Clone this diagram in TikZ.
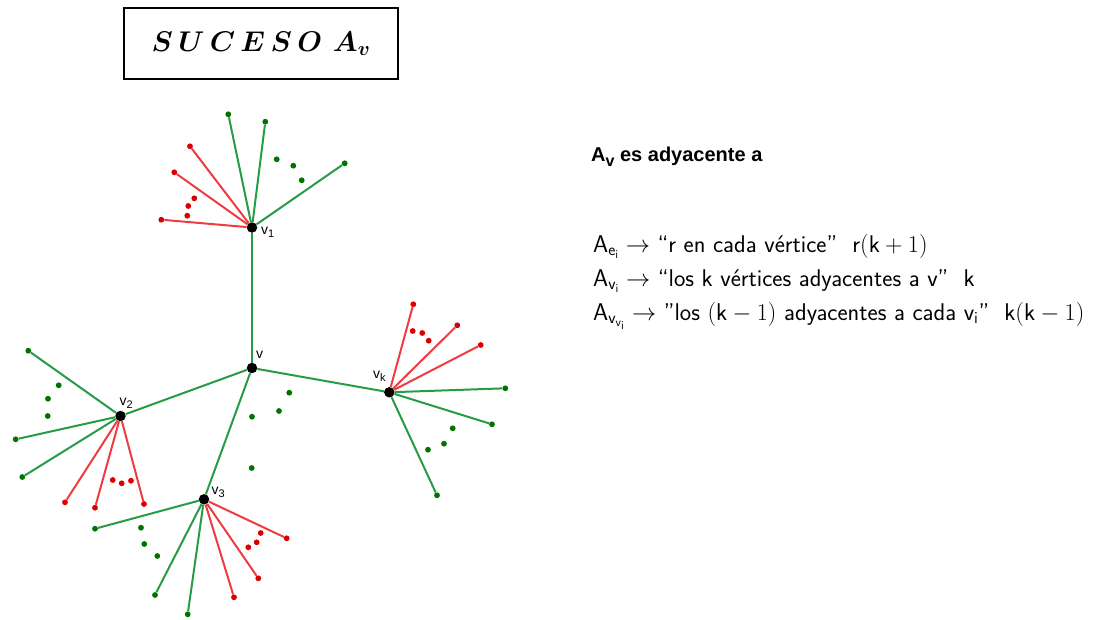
\RequirePackage{fix-cm}
\documentclass[tikz,border=0pt]{standalone}
\usepackage{fontspec}
\usepackage{amsmath}
\newfontfamily\helv{Liberation Sans}
\definecolor{lgreen}{RGB}{40,155,70}
\definecolor{dgreen}{RGB}{0,115,0}
\definecolor{lred}{RGB}{238,60,65}
\definecolor{dred}{RGB}{220,0,0}
\tikzset{
  vert/.style={circle,fill=black,inner sep=0pt,minimum size=10.5pt},
  gdot/.style={circle,fill=dgreen,inner sep=0pt,minimum size=5.8pt},
  rdot/.style={circle,fill=dred,inner sep=0pt,minimum size=5.8pt},
  gline/.style={draw=lgreen,line width=2pt},
  rline/.style={draw=lred,line width=2pt},
  vlab/.style={anchor=base west,inner sep=0pt,font=\helv\fontsize{14}{14}\selectfont},
  listline/.style={anchor=base west,inner sep=0pt,font=\sffamily\fontsize{24.2}{26}\selectfont}
}
\newcommand{\lsub}[1]{\raisebox{-3.5pt}{\fontsize{11}{11}\selectfont #1}}
\newcommand{\titletext}{\fontsize{28.5}{30}\selectfont$\boldsymbol{S\,U\,C\,E\,S\,O\,\,A_v}$}
\begin{document}
\begin{tikzpicture}[x=1pt,y=-1pt]
\fill[white] (0,0) rectangle (1093,619);
\useasboundingbox (0,0) rectangle (1093,619);
\node[draw,line width=1.2pt,minimum width=274pt,minimum height=71pt,inner sep=0pt] (title) at (261,43.5) {\titletext};
\node[vert] (v) at (252,368) {};
\node[vert] (v1) at (252,227.5) {};
\node[vert] (v2) at (120.5,416) {};
\node[vert] (v3) at (204,499.3) {};
\node[vert] (vk) at (389.3,392.3) {};
\node[vlab] (lv) at (256,358.5) {v};
\node[vlab] (lv1) at (261,234) {v\lsub{1}};
\node[vlab] (lv2) at (119.5,405) {v\lsub{2}};
\node[vlab] (lv3) at (211.5,494) {v\lsub{3}};
\node[vlab] (lvk) at (373,378) {v\lsub{k}};
\foreach \p [count=\i] in {(289.3,392.7),(279,411),(252,416.7),(251.7,468)}
  \node[gdot] (vd\i) at \p {};
\foreach \p [count=\i] in {(228.3,114.3),(265.3,121.7),(344.7,163.3)}
  \node[gdot] (ag\i) at \p {};
\foreach \p [count=\i] in {(276.7,159.3),(293.3,165.7),(301.7,180.3)}
  \node[gdot] (agd\i) at \p {};
\foreach \p [count=\i] in {(190,146.3),(174.3,172.3),(161.3,219.7)}
  \node[rdot] (ar\i) at \p {};
\foreach \p [count=\i] in {(194.3,198.3),(188.3,206),(187.3,215.7)}
  \node[rdot] (ard\i) at \p {};
\foreach \p [count=\i] in {(28.3,350.7),(15.7,439.3),(22.3,477)}
  \node[gdot] (bg\i) at \p {};
\foreach \p [count=\i] in {(58.7,385.3),(48,398.7),(47.7,416)}
  \node[gdot] (bgd\i) at \p {};
\foreach \p [count=\i] in {(65,502.3),(95,507.7),(144,504)}
  \node[rdot] (br\i) at \p {};
\foreach \p [count=\i] in {(112.7,480),(121.7,483.3),(131,480.7)}
  \node[rdot] (brd\i) at \p {};
\foreach \p [count=\i] in {(95,528.7),(155,595),(187.7,614.3)}
  \node[gdot] (cg\i) at \p {};
\foreach \p [count=\i] in {(141,527.7),(144.3,544),(157.3,556)}
  \node[gdot] (cgd\i) at \p {};
\foreach \p [count=\i] in {(286.7,538.3),(258.3,578.3),(234,597.3)}
  \node[rdot] (cr\i) at \p {};
\foreach \p [count=\i] in {(260.7,533),(256.7,542.3),(248.3,547.3)}
  \node[rdot] (crd\i) at \p {};
\foreach \p [count=\i] in {(505.3,388.3),(492,424.3),(437,495.3)}
  \node[gdot] (dg\i) at \p {};
\foreach \p [count=\i] in {(452.7,428.3),(444,443.7),(428,449.7)}
  \node[gdot] (dgd\i) at \p {};
\foreach \p [count=\i] in {(413.3,304.3),(457.3,325.3),(480.7,345)}
  \node[rdot] (dr\i) at \p {};
\foreach \p [count=\i] in {(412.7,331),(422.3,333),(428.7,340.7)}
  \node[rdot] (drd\i) at \p {};
\draw[gline] (v) -- (v1);
\draw[gline] (v) -- (v2);
\draw[gline] (v) -- (v3);
\draw[gline] (v) -- (vk);
\foreach \i in {1,2,3}{
  \draw[gline] (v1) -- (ag\i);
  \draw[rline] (v1) -- (ar\i);
  \draw[gline] (v2) -- (bg\i);
  \draw[rline] (v2) -- (br\i);
  \draw[gline] (v3) -- (cg\i);
  \draw[rline] (v3) -- (cr\i);
  \draw[gline] (vk) -- (dg\i);
  \draw[rline] (vk) -- (dr\i);
}
\node[anchor=base west,inner sep=0pt] (head) at (591,161)
  {\helv\bfseries\fontsize{20}{22}\selectfont A\raisebox{-5pt}{\fontsize{16}{16}\selectfont v} es adyacente a};
\node[listline] (l1) at (593,252)
  {$\mathsf{A}_{\mathsf{e}_{\mathsf{i}}}\rightarrow$ “r en cada vértice” \ $\mathsf{r}(\mathsf{k}+1)$};
\node[listline] (l2) at (593,286)
  {$\mathsf{A}_{\mathsf{v}_{\mathsf{i}}}\rightarrow$ “los k vértices adyacentes a v” \ k};
\node[listline] (l3) at (593,320)
  {$\mathsf{A}_{\mathsf{v}_{\mathsf{v}_{\mathsf{i}}}}\rightarrow$ ”los $(\mathsf{k}-1)$ adyacentes a cada $\mathsf{v}_{\mathsf{i}}$” \ $\mathsf{k}(\mathsf{k}-1)$};
\end{tikzpicture}
\end{document}
